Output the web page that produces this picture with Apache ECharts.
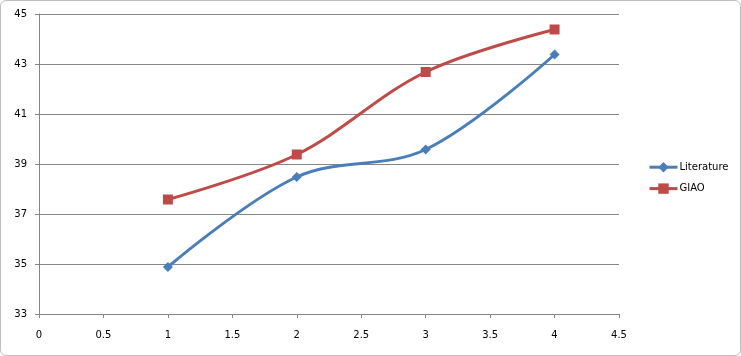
<!DOCTYPE html>
<html><head><meta charset="utf-8">
<script src="https://cdn.jsdelivr.net/npm/echarts@6/dist/echarts.min.js"></script>
<style>html,body{margin:0;padding:0;background:#fff;}#c{width:741px;height:356px;box-sizing:border-box;border:1px solid #bfbfbf;border-radius:6px;}</style>
</head><body><div id="c"></div>
<script>
const xValues = [1, 2, 3, 4];
const literature = [34.88, 38.48, 39.58, 43.38];
const giao = [37.58, 39.38, 42.68, 44.38];
const seriesNames = ['Literature', 'GIAO'];

const chart = echarts.init(document.getElementById('c'));
const font = '"DejaVu Sans", Verdana, sans-serif';
chart.setOption({
  animation: false,
  grid: {left: 38, right: 121, top: 13, bottom: 41},
  xAxis: {
    type: 'value', min: 0, max: 4.5, interval: 0.5,
    axisLine: {lineStyle: {color: '#868686', width: 1}},
    axisTick: {show: true, length: 4, inside: false, lineStyle: {color: '#868686'}},
    splitLine: {show: false},
    axisLabel: {margin: 16, fontSize: 10, color: '#000', fontFamily: font}
  },
  yAxis: {
    type: 'value', min: 33, max: 45, interval: 2,
    axisLine: {show: true, lineStyle: {color: '#868686', width: 1}},
    axisTick: {show: true, length: 4, lineStyle: {color: '#868686'}},
    splitLine: {show: true, lineStyle: {color: '#868686', width: 1}},
    axisLabel: {margin: 12, fontSize: 10, color: '#000', fontFamily: font}
  },
  legend: {
    orient: 'vertical', left: 642, top: 156, itemGap: 11,
    itemWidth: 28, itemHeight: 13,
    lineStyle: {width: 3},
    textStyle: {fontSize: 10, color: '#000', fontFamily: font, padding: [0, 0, 0, -3]},
    data: seriesNames
  },
  series: [
    {
      name: seriesNames[0], type: 'line', smooth: 0.35,
      data: xValues.map((x, i) => [x, literature[i]]),
      symbol: 'diamond', symbolSize: 10,
      lineStyle: {color: '#4A7EBB', width: 3},
      itemStyle: {color: '#4A7EBB'}
    },
    {
      name: seriesNames[1], type: 'line', smooth: 0.35,
      data: xValues.map((x, i) => [x, giao[i]]),
      symbol: 'rect', symbolSize: 10,
      lineStyle: {color: '#BE4B48', width: 3},
      itemStyle: {color: '#BE4B48'}
    }
  ]
});
</script></body></html>
